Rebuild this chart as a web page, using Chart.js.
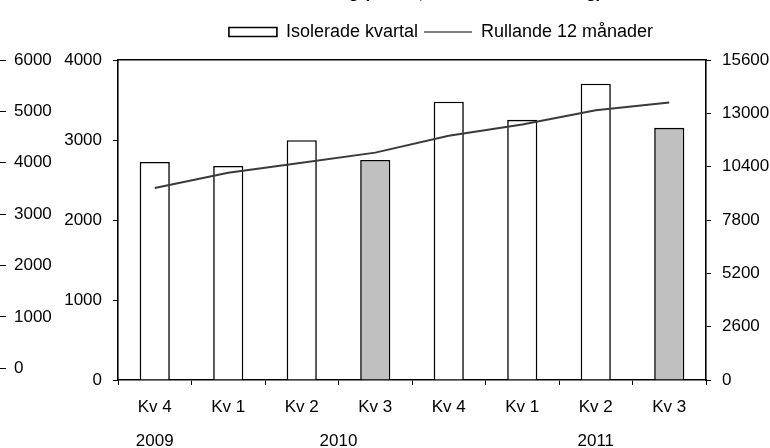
<!DOCTYPE html>
<html>
<head>
<meta charset="utf-8">
<script src="https://cdn.jsdelivr.net/npm/chart.js@4"></script>
<style>
  html, body { margin: 0; padding: 0; background: #fff; overflow: hidden; }
  #wrap { width: 770px; height: 448px; overflow: hidden; position: relative; }
  #wrap canvas { position: absolute; left: 0; top: -20px; }
</style>
</head>
<body>
<div id="wrap"><canvas id="chart" width="770" height="474"></canvas></div>
<script>
/* ================= DATA ================= */
const QUARTERS = ["Kv 4", "Kv 1", "Kv 2", "Kv 3", "Kv 4", "Kv 1", "Kv 2", "Kv 3"];
const QUARTER_VALUES = [2726, 2676, 2998, 2751, 3478, 3252, 3703, 3152];
const ROLLING_12M = [9362, 10106, 10588, 11084, 11912, 12457, 13151, 13532];
const YEARS = ["2009", "2010", "2011"];
const YEAR_POS = [0.5, 3, 6.5];
const LEFT_TICKS = [0, 1000, 2000, 3000, 4000];
const RIGHT_TICKS = [0, 2600, 5200, 7800, 10400, 13000, 15600];
const OUTER_TICKS = [0, 1000, 2000, 3000, 4000, 5000, 6000];

const TITLE = "Nettoomsättning (MSEK, exklusive avveckling)";
const FONT = "'Liberation Sans', Arial, sans-serif";

/* ================= HELPERS ================= */
const fixedTicks = list => scale => {
    scale.ticks = list.map(v => ({ value: v }));
};
const plain = v => String(v);

// header sits off-centre in the original
const shiftHeader = {
    id: "shiftHeader",
    afterLayout(chart) {
        const lg = chart.legend;
        lg.left += 56; lg.right += 56;
        lg.top -= 9; lg.bottom -= 9;
        const t = chart.titleBlock;
        t.left += 28; t.right += 28;
    }
};

/* ================= CHART ================= */
new Chart(document.getElementById("chart"), {
    data: {
        labels: QUARTERS,
        datasets: [
            {
                type: "bar",
                label: "Isolerade kvartal",
                data: QUARTER_VALUES,
                yAxisID: "yL",
                order: 2,
                backgroundColor: ctx => QUARTERS[ctx.dataIndex] === "Kv 3" ? "#c0c0c0" : "#ffffff",
                borderColor: "#000",
                borderWidth: 1.6,
                barPercentage: 0.41,
                categoryPercentage: 1
            },
            {
                type: "line",
                label: "Rullande 12 månader",
                data: ROLLING_12M,
                yAxisID: "yR",
                order: 1,
                borderColor: "#3a3a3a",
                borderWidth: 2,
                pointRadius: 0,
                tension: 0,
                fill: false
            }
        ]
    },
    options: {
        responsive: false,
        animation: false,
        layout: { padding: 0 },
        plugins: {
            tooltip: { enabled: false },
            title: {
                display: true,
                text: TITLE,
                color: "#000",
                font: { family: FONT, size: 17, weight: "bold" },
                padding: { top: 3, bottom: 22.6 }
            },
            legend: {
                labels: {
                    usePointStyle: true,
                    pointStyleWidth: 48,
                    boxHeight: 9,
                    padding: 6,
                    color: "#000",
                    font: { family: FONT, size: 18 },
                    generateLabels(chart) {
                        const items = Chart.defaults.plugins.legend.labels.generateLabels(chart);
                        items.sort((a, b) => a.datasetIndex - b.datasetIndex);
                        items[0].pointStyle = "rect";
                        items[0].fillStyle = "#fff";
                        items[0].strokeStyle = "#000";
                        items[0].lineWidth = 1.6;
                        items[1].pointStyle = "line";
                        items[1].strokeStyle = "#000";
                        items[1].lineWidth = 1.2;
                        return items;
                    }
                }
            }
        },
        scales: {
            x: {
                type: "category",
                position: "bottom",
                weight: 0,
                grid: { drawOnChartArea: false, tickLength: 5, color: "#000", lineWidth: 1 },
                border: { color: "#000", width: 1.6 },
                ticks: { color: "#000", padding: 13.5, font: { family: FONT, size: 17, lineHeight: 1 } }
            },
            xYear: {
                type: "linear",
                position: "bottom",
                weight: 1,
                min: 0,
                max: QUARTERS.length,
                afterBuildTicks: fixedTicks(YEAR_POS),
                grid: { display: false, drawTicks: false },
                border: { display: false },
                ticks: {
                    color: "#000",
                    padding: 4,
                    font: { family: FONT, size: 17, lineHeight: 1 },
                    callback: (v, i) => YEARS[i]
                }
            },
            xTop: {
                type: "category",
                position: "top",
                grid: { display: false, drawTicks: false },
                border: { color: "#000", width: 1.6 },
                ticks: { display: false }
            },
            yL: {
                type: "linear",
                position: "left",
                weight: 0,
                min: 0,
                max: 4000,
                afterBuildTicks: fixedTicks(LEFT_TICKS),
                afterFit: s => { s.width = 112; },
                grid: { drawOnChartArea: false, tickLength: 5, color: "#000", lineWidth: 1 },
                border: { color: "#000", width: 1.6 },
                ticks: { color: "#000", padding: 11, font: { family: FONT, size: 17 }, callback: plain }
            },
            yOuter: {
                type: "linear",
                position: "left",
                weight: 1,
                min: -228,
                max: 6000,
                afterBuildTicks: fixedTicks(OUTER_TICKS),
                afterFit: s => { s.width = 6; },
                grid: { drawOnChartArea: false, tickLength: 6, color: "#000", lineWidth: 1 },
                border: { display: false },
                ticks: { color: "#000", mirror: true, padding: 8, font: { family: FONT, size: 17 }, callback: plain }
            },
            yR: {
                type: "linear",
                position: "right",
                min: 0,
                max: 15600,
                afterBuildTicks: fixedTicks(RIGHT_TICKS),
                afterFit: s => { s.width = 64; },
                grid: { drawOnChartArea: false, tickLength: 5, color: "#000", lineWidth: 1 },
                border: { color: "#000", width: 1.6 },
                ticks: { color: "#000", padding: 11, font: { family: FONT, size: 17 }, callback: plain }
            }
        }
    },
    plugins: [shiftHeader]
});
</script>
</body>
</html>
